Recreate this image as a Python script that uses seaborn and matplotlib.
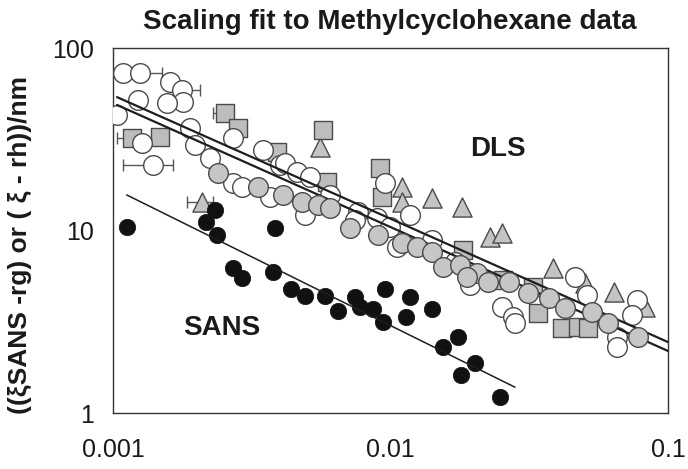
import numpy as np
import pandas as pd
import matplotlib
matplotlib.use("Agg")
import matplotlib.pyplot as plt
import seaborn as sns

# ---- DLS data: open circles
open_x = [1.087e-3, 1.25e-3, 1.605e-3, 1.773e-3, 1.788e-3, 1.23e-3, 1.565e-3, 1.034e-3, 1.895e-3, 1.975e-3,
          1.272e-3, 1.393e-3, 2.706e-3, 2.236e-3, 2.706e-3, 2.917e-3, 3.472e-3, 3.998e-3, 3.68e-3, 4.168e-3,
          4.604e-3, 5.128e-3, 6.053e-3, 4.918e-3, 7.637e-3, 7.449e-3, 8.94e-3, 9.554e-3, 1.176e-2, 9.96e-3,
          1.411e-2, 1.055e-2, 1.708e-2, 1.937e-2, 2.523e-2, 2.763e-2, 2.809e-2, 4.623e-2, 5.106e-2, 6.55e-2,
          6.55e-2, 7.73e-2, 7.42e-2]
open_y = [72.9, 72.9, 65.1, 58.9, 50.6, 51.9, 50.0, 42.9, 36.4, 29.4,
          30.2, 22.85, 32.1, 24.97, 18.2, 17.3, 27.6, 22.85, 15.3, 23.4,
          20.9, 19.6, 15.65, 12.2, 12.6, 11.4, 11.7, 18.2, 12.2, 10.45,
          8.87, 8.12, 6.72, 5.03, 3.81, 3.36, 3.11, 5.56, 4.43, 2.61,
          2.30, 4.16, 3.44]

# ---- DLS data: grey circles
grey_x = [2.39e-3, 3.332e-3, 4.099e-3, 4.799e-3, 5.48e-3, 6.053e-3, 7.146e-3, 9.016e-3, 1.10e-2, 1.246e-2,
          1.411e-2, 1.546e-2, 1.78e-2, 2.05e-2, 1.887e-2, 2.246e-2, 2.673e-2, 3.129e-2, 3.725e-2, 4.255e-2,
          5.322e-2, 6.08e-2, 7.8e-2]
grey_y = [20.65, 17.3, 15.65, 14.3, 13.8, 13.3, 10.3, 9.45, 8.54, 8.12,
          7.62, 6.31, 6.47, 5.85, 5.56, 5.22, 5.22, 4.55, 4.27, 3.76,
          3.58, 3.11, 2.61]

# ---- DLS data: grey squares
sq_x = [2.532e-3, 2.821e-3, 1.171e-3, 1.476e-3, 3.899e-3, 5.712e-3, 9.167e-3, 5.905e-3, 9.32e-3, 1.826e-2,
        3.262e-2, 3.40e-2, 4.15e-2, 4.739e-2, 5.148e-2, 2.544e-2]
sq_y = [44.0, 36.4, 32.1, 32.5, 26.9, 35.5, 22.0, 18.4, 15.3, 7.82,
        4.90, 3.53, 2.92, 2.96, 2.92, 5.35]

# ---- DLS data: grey triangles
tri_x = [2.093e-3, 5.572e-3, 1.10e-2, 1.10e-2, 1.411e-2, 1.81e-2, 2.284e-2, 2.523e-2, 3.851e-2, 6.39e-2,
         8.26e-2, 5.022e-2]
tri_y = [14.3, 28.7, 17.3, 14.3, 15.1, 13.45, 9.21, 9.69, 6.23, 4.60,
         3.81, 5.16]

# ---- SANS data: black circles
sans_x = [1.12e-3, 2.33e-3, 2.16e-3, 2.37e-3, 2.71e-3, 2.92e-3, 3.84e-3, 3.77e-3, 4.38e-3, 4.92e-3,
          5.81e-3, 6.47e-3, 7.45e-3, 7.77e-3, 8.65e-3, 9.40e-3, 9.55e-3, 1.176e-2, 1.137e-2, 1.411e-2,
          1.546e-2, 1.751e-2, 2.016e-2, 1.795e-2, 2.48e-2]
sans_y = [10.4, 12.9, 11.1, 9.45, 6.2, 5.5, 10.3, 5.9, 4.8, 4.4,
          4.4, 3.6, 4.3, 3.8, 3.7, 3.15, 4.8, 4.3, 3.35, 3.7,
          2.3, 2.6, 1.88, 1.62, 1.22]

# ---- horizontal error bars (point x, y, lower x, upper x)
err_x = [1.087e-3, 1.25e-3, 1.773e-3, 1.393e-3, 2.532e-3, 1.171e-3, 2.093e-3]
err_y = [72.9, 72.9, 58.9, 22.85, 44.0, 32.1, 14.3]
err_lo = [1.03e-3, 1.16e-3, 1.673e-3, 1.087e-3, 2.293e-3, 1.034e-3, 1.848e-3]
err_hi = [1.20e-3, 1.50e-3, 2.058e-3, 1.645e-3, 2.60e-3, 1.22e-3, 2.293e-3]

# ---- power-law fits: (prefactor, exponent, x start, x end)
fit_dls_1 = (0.516, -0.676, 1.034e-3, 0.101)
fit_dls_2 = (0.458, -0.679, 1.034e-3, 0.101)
fit_sans = (0.094, -0.753, 1.12e-3, 2.81e-2)

x_ticks = [0.001, 0.01, 0.1]
x_ticklabels = ["0.001", "0.01", "0.1"]
y_ticks = [1, 10, 100]
y_ticklabels = ["1", "10", "100"]

sns.set_style("white")
plt.rcParams["font.family"] = ["Liberation Sans", "DejaVu Sans"]

W, H = 688, 469
fig = plt.figure(figsize=(W / 100, H / 100), dpi=100)
ax = fig.add_axes([113 / W, 1 - 413 / H, 555 / W, 365 / H])
ax.set_xscale("log")
ax.set_yscale("log")
ax.set_xlim(0.001, 0.1)
ax.set_ylim(1, 100)


def fit_frame(params):
    a, b, x0, x1 = params
    xs = np.geomspace(x0, x1, 60)
    return pd.DataFrame({"x": xs, "y": a * xs ** b})


edge = "#4a4a4a"
ms = 200

# error bars first so markers sit on top
e_x = np.array(err_x)
ax.errorbar(err_x, err_y, xerr=[e_x - np.array(err_lo), np.array(err_hi) - e_x],
            fmt="none", ecolor="#555555", elinewidth=1.0, capsize=4, capthick=1.0, zorder=1)

sns.scatterplot(x=tri_x, y=tri_y, marker="^", s=190, color="#c4c4c4",
                edgecolor=edge, linewidth=1.0, ax=ax, zorder=2)
sns.scatterplot(x=sq_x, y=sq_y, marker="s", s=170, color="#bdbdbd",
                edgecolor=edge, linewidth=1.0, ax=ax, zorder=3)
sns.scatterplot(x=open_x, y=open_y, marker="o", s=ms, color="white",
                edgecolor=edge, linewidth=1.0, ax=ax, zorder=4)

for params in (fit_dls_1, fit_dls_2):
    sns.lineplot(data=fit_frame(params), x="x", y="y", color="#1e1e1e",
                 linewidth=1.6, ax=ax, zorder=5)

sns.scatterplot(x=grey_x, y=grey_y, marker="o", s=ms, color="#c6c6c6",
                edgecolor=edge, linewidth=1.0, ax=ax, zorder=6)
sns.scatterplot(x=sans_x, y=sans_y, marker="o", s=140, color="#111111",
                edgecolor="#111111", linewidth=0.5, ax=ax, zorder=7)
sns.lineplot(data=fit_frame(fit_sans), x="x", y="y", color="#1e1e1e",
             linewidth=1.1, ax=ax, zorder=8)

ax.set_xticks(x_ticks)
ax.set_xticklabels(x_ticklabels)
ax.set_yticks(y_ticks)
ax.set_yticklabels(y_ticklabels)
ax.minorticks_off()
ax.tick_params(axis="both", which="major", direction="out", length=4, width=1,
               color="#333333", labelsize=18, labelcolor="#1a1a1a")
ax.tick_params(axis="x", pad=14)
ax.tick_params(axis="y", pad=10)
ax.set_xlabel("")
ax.set_ylabel("")
for sp in ax.spines.values():
    sp.set_visible(True)
    sp.set_color("#333333")
    sp.set_linewidth(1.0)

ax.text(0.0193, 28, "DLS", fontsize=20, fontweight="bold", color="#1a1a1a",
        ha="left", va="center", zorder=9)
ax.text(0.00179, 2.92, "SANS", fontsize=20, fontweight="bold", color="#1a1a1a",
        ha="left", va="center", zorder=9)

fig.text(390 / W, 1 - 22 / H, "Scaling fit to Methylcyclohexane data", fontsize=20,
         fontweight="bold", color="#1a1a1a", ha="center", va="center")
fig.text(20 / W, 1 - 245 / H, "((ξSANS -rg) or ( ξ - rh))/nm", fontsize=19,
         fontweight="bold", color="#1a1a1a", rotation=90, ha="center", va="center")

fig.savefig("out.png", dpi=100, facecolor="white")
